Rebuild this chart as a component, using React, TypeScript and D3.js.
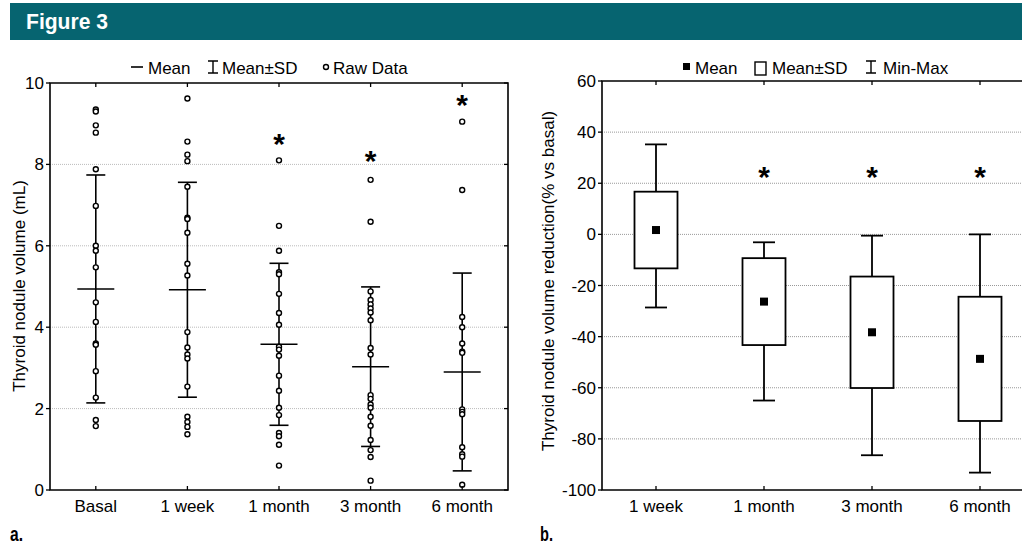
import * as d3 from 'd3';

// panel a: raw volumes (mL)
const groupsA = ['Basal', '1 week', '1 month', '3 month', '6 month'];
const basal = [9.35, 9.3, 8.96, 8.78, 7.88, 6.98, 6.0, 5.88, 5.47, 4.61, 4.13, 3.6, 3.57, 2.92, 2.27, 1.72, 1.57];
const week1 = [9.62, 8.56, 8.24, 8.08, 7.45, 6.69, 6.66, 6.32, 5.56, 5.27, 3.88, 3.5, 3.33, 3.23, 2.54, 1.8, 1.67, 1.55, 1.37];
const month1 = [8.1, 6.49, 5.88, 5.35, 5.3, 4.82, 4.35, 4.06, 3.52, 3.45, 3.3, 2.81, 2.44, 2.02, 1.84, 1.4, 1.32, 1.11, 0.6];
const month3 = [7.62, 6.59, 4.88, 4.67, 4.56, 4.46, 4.36, 4.17, 3.49, 3.33, 2.33, 2.24, 2.1, 2.02, 1.8, 1.58, 1.23, 0.98, 0.81, 0.23];
const month6 = [9.05, 7.37, 4.25, 4.0, 3.6, 3.4, 3.37, 1.98, 1.92, 1.86, 1.05, 0.88, 0.82, 0.13];
const rawA = [basal, week1, month1, month3, month6];
const meanA = [4.94, 4.92, 3.58, 3.03, 2.9];
const sdA = [2.8, 2.64, 1.99, 1.96, 2.43];
const starA = [null, null, 8.6, 8.17, 9.56];
const ticksA = [0, 2, 4, 6, 8, 10];

// panel b: % reduction vs basal
const groupsB = ['1 week', '1 month', '3 month', '6 month'];
const meanB = [1.7, -26.3, -38.3, -48.7];
const sdB = [15, 17, 21.8, 24.3];
const minB = [-28.6, -65, -86.4, -93.2];
const maxB = [35.2, -3.1, -0.5, 0];
const starB = [null, 24.2, 24.2, 24.2];
const ticksB = [-100, -80, -60, -40, -20, 0, 20, 40, 60];

const FONT = '"Liberation Sans", Arial, sans-serif';
const COND = '"Liberation Sans", Arial, sans-serif';

export default function App() {
  const W = 1022, H = 545;

  // panel a scales
  const xA = d3.scaleBand().domain(groupsA).range([50, 508]);
  const yA = d3.scaleLinear().domain([0, 10]).range([490, 83]);
  const cxA = (g: string) => (xA(g) as number) + xA.bandwidth() / 2;

  // panel b scales
  const xB = d3.scaleBand().domain(groupsB).range([602, 1034]);
  const yB = d3.scaleLinear().domain([-100, 60]).range([490, 81]);
  const cxB = (g: string) => (xB(g) as number) + xB.bandwidth() / 2;

  return (
    <svg width={W} height={H} style={{ position: 'absolute', left: 0, top: 0, background: '#fff' }}>
      {/* header */}
      <rect x={10} y={3} width={W - 10} height={37} fill="#066470" />
      <text x={26} y={29} fill="#fff" fontFamily={COND} fontWeight="bold" fontSize={22} textLength={82} lengthAdjust="spacingAndGlyphs">Figure 3</text>

      {/* ---------- panel a ---------- */}
      {ticksA.filter(t => t > 0 && t < 10).map(t => (
        <line key={'ga' + t} x1={50} x2={508} y1={yA(t)} y2={yA(t)} stroke="#bbb" strokeWidth={1} strokeDasharray="1,1" />
      ))}
      {rawA.map((vals, i) => {
        const cx = cxA(groupsA[i]);
        const m = meanA[i], s = sdA[i];
        return (
          <g key={'a' + i} stroke="#000" fill="none">
            <line x1={cx} x2={cx} y1={yA(m + s)} y2={yA(m - s)} strokeWidth={1.6} />
            <line x1={cx - 9.5} x2={cx + 9.5} y1={yA(m + s)} y2={yA(m + s)} strokeWidth={1.6} />
            <line x1={cx - 9.5} x2={cx + 9.5} y1={yA(m - s)} y2={yA(m - s)} strokeWidth={1.6} />
            <line x1={cx - 18.5} x2={cx + 18.5} y1={yA(m)} y2={yA(m)} strokeWidth={1.6} />
            {vals.map((v, j) => (
              <circle key={j} cx={cx} cy={yA(v)} r={2.5} fill="#fff" strokeWidth={1.4} />
            ))}
          </g>
        );
      })}
      {starA.map((v, i) => v == null ? null : (
        <text key={'sa' + i} x={cxA(groupsA[i])} y={yA(v) + 14} textAnchor="middle" fontFamily={FONT} fontWeight="bold" fontSize={30}>*</text>
      ))}
      {/* frame a */}
      <path d="M50,83 H508 V490 H50 Z" fill="none" stroke="#000" strokeWidth={1.6} />
      {groupsA.map(g => (
        <g key={'ta' + g}>
          <line x1={cxA(g)} x2={cxA(g)} y1={83} y2={87} stroke="#000" strokeWidth={1.3} />
          <line x1={cxA(g)} x2={cxA(g)} y1={490} y2={486} stroke="#000" strokeWidth={1.3} />
          <text x={cxA(g)} y={512} textAnchor="middle" fontFamily={FONT} fontSize={17}>{g}</text>
        </g>
      ))}
      {ticksA.map(t => (
        <g key={'ya' + t}>
          <line x1={46} x2={50} y1={yA(t)} y2={yA(t)} stroke="#000" strokeWidth={1.3} />
          <line x1={504} x2={508} y1={yA(t)} y2={yA(t)} stroke="#000" strokeWidth={1.3} />
          <text x={44} y={yA(t) + 6} textAnchor="end" fontFamily={FONT} fontSize={17}>{t}</text>
        </g>
      ))}
      <text transform="translate(25,286) rotate(-90)" textAnchor="middle" fontFamily={FONT} fontSize={17}>Thyroid nodule volume (mL)</text>
      {/* legend a */}
      <g fontFamily={FONT} fontSize={17}>
        <line x1={131} x2={143} y1={67} y2={67} stroke="#000" strokeWidth={1.6} />
        <text x={148} y={74}>Mean</text>
        <path d="M208,61 H218 M213,61 V73 M208,73 H218" stroke="#000" strokeWidth={1.4} fill="none" />
        <text x={222} y={74}>Mean±SD</text>
        <circle cx={326} cy={67} r={2.5} fill="#fff" stroke="#000" strokeWidth={1.4} />
        <text x={333} y={74}>Raw Data</text>
      </g>
      <text x={10} y={541} fontFamily={COND} fontWeight="bold" fontSize={21} textLength={13} lengthAdjust="spacingAndGlyphs">a.</text>

      {/* ---------- panel b ---------- */}
      {ticksB.filter(t => t > -100 && t < 60).map(t => (
        <line key={'gb' + t} x1={602} x2={W} y1={yB(t)} y2={yB(t)} stroke="#999" strokeWidth={1} strokeDasharray="1,1" />
      ))}
      {groupsB.map((g, i) => {
        const cx = cxB(g);
        const m = meanB[i], s = sdB[i];
        return (
          <g key={'b' + i} stroke="#000" fill="none" strokeWidth={1.8}>
            <line x1={cx} x2={cx} y1={yB(maxB[i])} y2={yB(m + s)} />
            <line x1={cx} x2={cx} y1={yB(m - s)} y2={yB(minB[i])} />
            <line x1={cx - 11} x2={cx + 11} y1={yB(maxB[i])} y2={yB(maxB[i])} />
            <line x1={cx - 11} x2={cx + 11} y1={yB(minB[i])} y2={yB(minB[i])} />
            <rect x={cx - 21.5} width={43} y={yB(m + s)} height={yB(m - s) - yB(m + s)} fill="#fff" />
            <rect x={cx - 4} y={yB(m) - 4} width={8} height={8} fill="#000" stroke="none" />
          </g>
        );
      })}
      {starB.map((v, i) => v == null ? null : (
        <text key={'sb' + i} x={cxB(groupsB[i])} y={yB(v) + 14} textAnchor="middle" fontFamily={FONT} fontWeight="bold" fontSize={30}>*</text>
      ))}
      <path d={`M${W},81 H602 V490 H${W}`} fill="none" stroke="#000" strokeWidth={1.6} />
      {groupsB.map(g => (
        <g key={'tb' + g}>
          <line x1={cxB(g)} x2={cxB(g)} y1={81} y2={85} stroke="#000" strokeWidth={1.3} />
          <line x1={cxB(g)} x2={cxB(g)} y1={490} y2={486} stroke="#000" strokeWidth={1.3} />
          <text x={cxB(g)} y={512} textAnchor="middle" fontFamily={FONT} fontSize={17}>{g}</text>
        </g>
      ))}
      {ticksB.map(t => (
        <g key={'yb' + t}>
          <line x1={598} x2={602} y1={yB(t)} y2={yB(t)} stroke="#000" strokeWidth={1.3} />
          <text x={596} y={yB(t) + 6} textAnchor="end" fontFamily={FONT} fontSize={17}>{t}</text>
        </g>
      ))}
      <text transform="translate(554,281) rotate(-90)" textAnchor="middle" fontFamily={FONT} fontSize={17}>Thyroid nodule volume reduction(% vs basal)</text>
      {/* legend b */}
      <g fontFamily={FONT} fontSize={17}>
        <rect x={683} y={63} width={7} height={7} fill="#000" />
        <text x={695} y={74}>Mean</text>
        <rect x={755} y={62} width={11} height={13} fill="#fff" stroke="#000" strokeWidth={1.4} />
        <text x={772} y={74}>Mean±SD</text>
        <path d="M866,61 H876 M871,61 V73 M866,73 H876" stroke="#000" strokeWidth={1.4} fill="none" />
        <text x={883} y={74}>Min-Max</text>
      </g>
      <text x={540} y={541} fontFamily={COND} fontWeight="bold" fontSize={21} textLength={13} lengthAdjust="spacingAndGlyphs">b.</text>
    </svg>
  );
}
